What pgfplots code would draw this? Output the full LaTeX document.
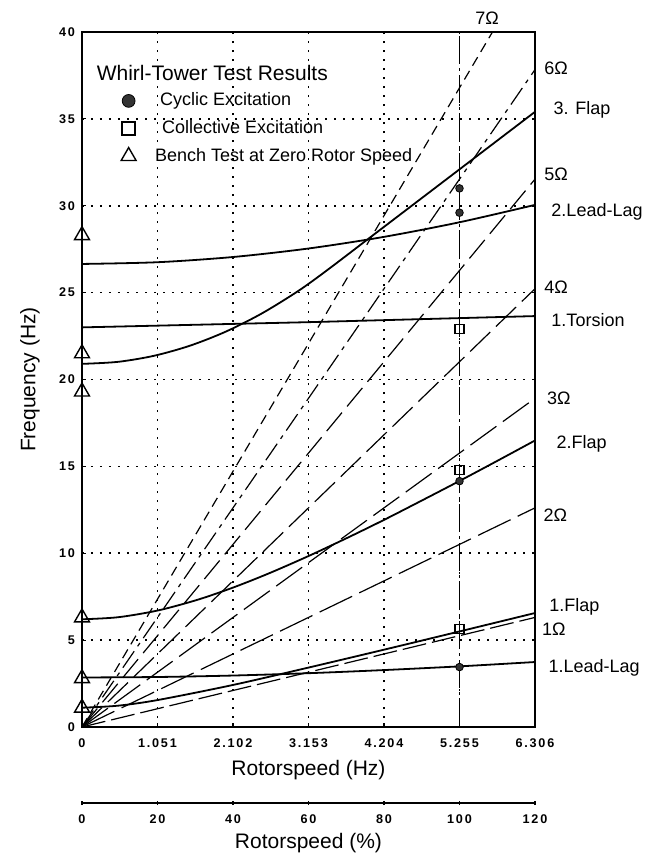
\documentclass[border=0pt]{standalone}
\usepackage{fontspec}
\setmainfont{Liberation Sans}
\newfontfamily\tickfont[LetterSpace=14]{Liberation Sans}
\usepackage{pgfplots}
\pgfplotsset{compat=1.18}
\begin{document}
\begin{tikzpicture}
\useasboundingbox (-41pt,-65.5pt) rectangle (282.5pt,363.5pt);
\begin{axis}[
  at={(0,0)}, anchor=south west,
  width=226.5pt, height=347.5pt, scale only axis,
  xmin=0, xmax=6.306, ymin=0, ymax=40,
  clip=false,
  axis line style={line width=1pt},
  xtick={0,1.051,2.102,3.153,4.204,5.255,6.306},
  xticklabels={0,1.051,2.102,3.153,4.204,5.255,6.306},
  ytick={0,5,10,15,20,25,30,35,40},
  yticklabels={0,5,10,15,20,25,30,35,40},
  /pgf/number format/assume math mode=true,
  tick label style={font=\tickfont\bfseries\fontsize{6.3}{7}\selectfont},
  xticklabel style={yshift=-2.5pt},
  major tick length=2pt,
  tick style={line width=0.6pt, black},
  tick pos=left,
  grid=major,
  major grid style={line width=0.8pt, dash pattern=on 0.8pt off 3.7pt, black},
  xlabel={Rotorspeed (Hz)},
  ylabel={Frequency (Hz)},
  label style={font=\fontsize{10.5}{12}\selectfont},
  xlabel style={at={(axis description cs:0.5,-0.0619)}, anchor=center},
  ylabel style={at={(axis description cs:-0.115,0.5)}, anchor=center},
  legend style={draw=none, fill=none, at={(axis cs:0.54,36.75)}, anchor=north west,
     font=\fontsize{9}{10}\selectfont, row sep=1.8pt, inner sep=0pt},
  legend cell align=left,
]
% measured points
\addplot[forget plot, only marks, mark=*, mark size=1.9pt, mark options={fill=black!80, draw=black}]
  coordinates {(5.255,31.0) (5.255,29.6) (5.255,14.15) (5.255,3.45)};
\addplot[forget plot, only marks, mark=square, mark size=2.3pt, mark options={fill=white, draw=black, line width=0.7pt}]
  coordinates {(5.255,22.9) (5.255,14.8) (5.255,5.65)};
\addplot[forget plot, only marks, mark=triangle, mark size=4.3pt, mark options={fill=white, draw=black, line width=0.7pt}]
  coordinates {(0,28.3) (0,21.5) (0,19.3) (0,6.3) (0,2.8) (0,1.1)};

\addlegendimage{only marks, mark=*, mark size=3.2pt, mark options={fill=black!80, draw=black}}
\addlegendentry{\hspace{10pt}Cyclic Excitation}
\addlegendimage{only marks, mark=square, mark size=3.2pt, mark options={fill=white, draw=black, line width=0.8pt}}
\addlegendentry{\hspace{11pt}Collective Excitation}
\addlegendimage{only marks, mark=triangle, mark size=4.3pt, mark options={fill=white, draw=black, line width=0.7pt}}
\addlegendentry{\hspace{7.5pt}Bench Test at Zero Rotor Speed}

% reference line at 100 %
\addplot[forget plot, line width=0.9pt, dash pattern=on 14pt off 2pt on 1.5pt off 2pt]
  coordinates {(5.255,0) (5.255,40)};

% n-Omega lines
\addplot[forget plot, line width=0.6pt, dash pattern=on 12pt off 3pt] coordinates {(0,0) (6.306,6.306)};
\addplot[forget plot, line width=0.6pt, dash pattern=on 18pt off 4pt] coordinates {(0,0) (6.306,12.612)};
\addplot[forget plot, line width=0.6pt, dash pattern=on 16pt off 4pt] coordinates {(0,0) (6.306,18.918)};
\addplot[forget plot, line width=0.6pt, dash pattern=on 14pt off 4pt] coordinates {(0,0) (6.306,25.224)};
\addplot[forget plot, line width=0.6pt, dash pattern=on 12pt off 4pt] coordinates {(0,0) (6.306,31.53)};
\addplot[forget plot, line width=0.6pt, dash pattern=on 10pt off 3pt on 2pt off 3pt] coordinates {(0,0) (6.306,37.836)};
\addplot[forget plot, line width=0.6pt, dash pattern=on 5pt off 3pt] coordinates {(0,0) (5.714,40)};

% modes
\addplot[forget plot, line width=0.9pt, smooth] coordinates {
 (0,2.85) (1.051,2.878) (2.102,2.962) (3.153,3.097) (4.204,3.277) (5.255,3.49) (6.306,3.74)};
\addplot[forget plot, line width=0.9pt, smooth] coordinates {
 (0,1.11) (0.5,1.226) (1.051,1.55) (2.102,2.42) (3.153,3.42) (4.204,4.45) (5.255,5.50) (6.306,6.56)};
\addplot[forget plot, line width=0.9pt, smooth] coordinates {
 (0,6.2) (0.5,6.317) (1.051,6.702) (1.6,7.312) (2.102,8.024) (2.6,8.839) (3.153,9.839)
 (3.7,10.90) (4.204,11.92) (4.7,12.97) (5.255,14.16) (5.8,15.36) (6.306,16.49)};
\addplot[forget plot, line width=0.9pt] coordinates {(0,23.0) (3.153,23.3) (6.306,23.65)};
\addplot[forget plot, line width=0.9pt, smooth] coordinates {
 (0,26.65) (1.051,26.75) (2.102,27.05) (3.153,27.54) (4.204,28.21) (5.255,29.05) (6.306,30.05)};
\addplot[forget plot, line width=0.9pt, smooth] coordinates {
 (0,20.9) (0.5,21.016) (1.0,21.363) (1.5,21.942) (2.0,22.752) (2.5,23.794) (3.0,25.067)
 (3.4,26.252) (4.0,28.142) (4.6,30.032) (5.2,31.922) (5.8,33.812) (6.306,35.406)};

% title of legend
\node[anchor=west, inner sep=0pt, font=\fontsize{10.5}{12}\selectfont] at (axis cs:0.2,37.65) {Whirl-Tower Test Results};

% right labels
\begin{scope}[every node/.style={font=\fontsize{9}{10}\selectfont, anchor=west, inner sep=0pt}]
\node[anchor=center] at (axis cs:5.64,40.8) {7Ω};
\node at (axis cs:6.43,37.9) {6Ω};
\node at (axis cs:6.56,35.5) {3. Flap};
\node at (axis cs:6.43,31.8) {5Ω};
\node at (axis cs:6.53,29.65) {2.Lead-Lag};
\node at (axis cs:6.43,25.3) {4Ω};
\node at (axis cs:6.53,23.4) {1.Torsion};
\node at (axis cs:6.47,18.9) {3Ω};
\node at (axis cs:6.60,16.3) {2.Flap};
\node at (axis cs:6.42,12.2) {2Ω};
\node at (axis cs:6.50,6.9) {1.Flap};
\node at (axis cs:6.40,5.6) {1Ω};
\node at (axis cs:6.49,3.4) {1.Lead-Lag};
\end{scope}
\end{axis}

\begin{axis}[
  at={(0pt,-38pt)}, anchor=south west,
  width=226.5pt, height=5pt, scale only axis,
  xmin=0, xmax=120, ymin=0, ymax=1,
  axis x line=bottom, axis y line=none,
  x axis line style={-, line width=1pt},
  xtick={0,20,40,60,80,100,120},
  xticklabels={0,20,40,60,80,100,120},
  /pgf/number format/assume math mode=true,
  tick label style={font=\tickfont\bfseries\fontsize{6.3}{7}\selectfont},
  xticklabel style={yshift=-1.5pt},
  major tick length=2pt,
  tick style={line width=0.6pt, black},
  xlabel={Rotorspeed (\%)},
  label style={font=\fontsize{10.5}{12}\selectfont},
  xlabel style={at={(axis description cs:0.5,0)}, anchor=center, yshift=-20pt},
]
\end{axis}
\end{tikzpicture}
\end{document}
